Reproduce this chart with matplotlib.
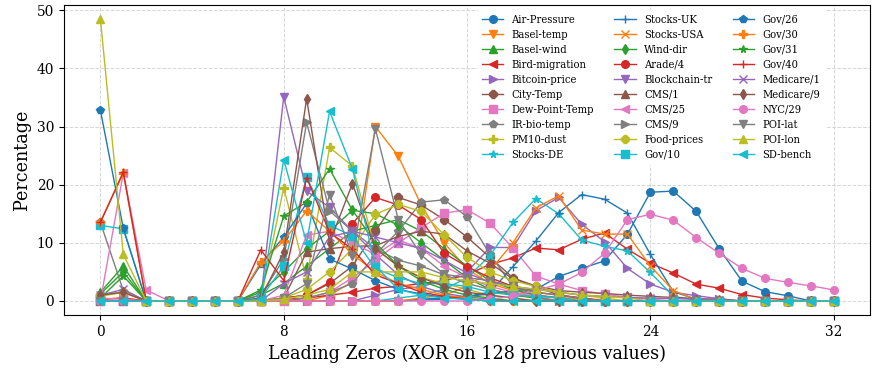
import matplotlib
matplotlib.use("Agg")
import matplotlib.pyplot as plt

plt.rcParams['font.family'] = ['DejaVu Serif']
plt.rcParams['font.stretch'] = 'condensed'

leading_zeros = list(range(33))

names = ["Air-Pressure", "Basel-temp", "Basel-wind", "Bird-migration", "Bitcoin-price",
         "City-Temp", "Dew-Point-Temp", "IR-bio-temp", "PM10-dust", "Stocks-DE",
         "Stocks-UK", "Stocks-USA", "Wind-dir", "Arade/4", "Blockchain-tr",
         "CMS/1", "CMS/25", "CMS/9", "Food-prices", "Gov/10",
         "Gov/26", "Gov/30", "Gov/31", "Gov/40", "Medicare/1",
         "Medicare/9", "NYC/29", "POI-lat", "POI-lon", "SD-bench"]

#                 0    1    2  3  4  5  6    7     8     9    10    11    12    13    14    15    16    17    18    19    20    21    22    23    24    25    26    27   28   29   30   31   32
air_pressure   = [0,   0,   0, 0, 0, 0, 0,   0,    0,    0,   0,    0,    0,    0,  0.3,  0.5,  0.8,  1.2,  1.8,  2.0,  4.2,  5.6,  6.9, 11.5, 18.7, 18.9, 15.4,  9.0, 3.4, 1.6, 0.9,   0,   0]
basel_temp     = [0.3, 0.5, 0, 0, 0, 0, 0,   0,    0,    0, 1.0,  3.3, 30.0, 24.9, 16.5, 10.0,  5.5,  3.0,  1.8,  1.0,  0.6,  0.4,  0.2,    0,    0,    0,    0,    0,   0,   0,   0,   0,   0]
basel_wind     = [1.5, 6.0, 0, 0, 0, 0, 0, 1.0,  3.0,  6.0, 9.0, 12.0, 13.0, 14.0, 12.0,  9.0,  6.0,  3.5,  2.0,  1.0,  0.5,    0,    0,    0,    0,    0,    0,    0,   0,   0,   0,   0,   0]
bird_migration = [0.3, 0.5, 0, 0, 0, 0, 0,   0,  0.3,  0.5, 1.0,  1.5,  2.2,  2.5,  3.0,  3.5,  4.5,  6.3,  7.4,  9.1,  8.8, 10.6, 11.7,  8.9,  6.5,  4.8,  2.9,  2.2, 1.1, 0.5, 0.2,   0,   0]
bitcoin_price  = [0,   0,   0, 0, 0, 0, 0,   0,    0,    0,   0,    0,  1.0,  2.0,  2.5,  3.5,  5.0,  9.2,  9.2, 15.5, 17.8, 13.2, 10.2,  5.6,  2.9,  1.5,  0.9,  0.4,   0,   0,   0,   0,   0]
city_temp      = [1.0, 1.5, 0, 0, 0, 0, 0,   0,  0.5,  1.0, 3.0,  6.0, 12.0, 17.8, 16.5, 14.0, 11.0,  7.5,  4.0,  2.5,  1.0,  0.5,    0,    0,    0,    0,    0,    0,   0,   0,   0,   0,   0]
dew_point_temp = [0.5, 0.3, 0, 0, 0, 0, 0,   0,    0,  0.5, 1.5,  4.0,  7.0, 10.0, 12.6, 15.1, 15.7, 13.4,  9.1,  4.3,  2.9,  1.8,  1.2,  0.6,  0.3,    0,    0,    0,   0,   0,   0,   0,   0]
ir_bio_temp    = [13.5, 1.8, 0, 0, 0, 0, 0,  0,    0,  0.5, 1.5,  3.0,  8.0, 12.0, 17.0, 17.4, 14.5,  8.0,  2.5,  1.0,  0.5,    0,    0,    0,    0,    0,    0,    0,   0,   0,   0,   0,   0]
pm10_dust      = [1.0, 1.5, 0, 0, 0, 0, 0, 0.3, 19.5,  3.8, 26.4, 23.2, 9.0,  6.0,  4.0,  3.0,  2.0,  1.0,  0.5,    0,    0,    0,    0,    0,    0,    0,    0,    0,   0,   0,   0,   0,   0]
stocks_de      = [0,   0,   0, 0, 0, 0, 0,   0,    0,    0,   0,    0,    0,  0.5,  1.0,  2.0,  4.0,  7.8, 13.5, 17.6, 15.0, 10.5,  9.4,  8.6,  4.9,  0.8,  0.2,    0,   0,   0,   0,   0,   0]
stocks_uk      = [0,   0,   0, 0, 0, 0, 0,   0,    0,    0,   0,    0,    0,    0,  0.2,  0.3,  0.8,  1.5,  5.9, 10.3, 15.2, 18.3, 17.5, 15.1,  8.0,  1.6,  0.3,    0,   0,   0,   0,   0,   0]
stocks_usa     = [0,   0,   0, 0, 0, 0, 0,   0,    0,    0,   0,    0,    0,    0,  0.5,  1.0,  2.5,  5.2, 10.0, 16.0, 18.1, 12.2, 11.5, 11.5,  6.0,  1.8,  0.2,    0,   0,   0,   0,   0,   0]
wind_dir       = [1.2, 5.0, 0, 0, 0, 0, 0, 1.5,  5.0,  9.0, 12.0, 15.6, 15.0, 13.0, 10.0,  7.0,  4.0,  2.0,  1.0,  0.5,    0,    0,    0,    0,    0,    0,    0,    0,   0,   0,   0,   0,   0]
arade_4        = [0,   0,   0, 0, 0, 0, 0,   0,  0.5,  1.0, 3.2, 13.3, 17.8, 16.5, 14.0,  8.2,  5.9,  4.0,  2.5,  1.5,  1.0,  0.5,    0,    0,    0,    0,    0,    0,   0,   0,   0,   0,   0]
blockchain_tr  = [0,   0,   0, 0, 0, 0, 0, 0.3, 35.1, 18.9, 16.1, 12.0, 8.0,  4.5,  2.5,  1.3,  0.7,  0.3,    0,    0,    0,    0,    0,    0,    0,    0,    0,    0,   0,   0,   0,   0,   0]
cms_1          = [0,   0,   0, 0, 0, 0, 0,   0,  0.5,  8.4, 9.0,  9.4,  9.5, 11.1, 12.0, 11.5,  8.6,  6.5,  3.8,  2.6,  1.8,  1.5,  1.3,  1.0,  0.8,  0.6,  0.4,  0.3,   0,   0,   0,   0,   0]
cms_25         = [0,  22.0, 1.9, 0, 0, 0, 0, 0,  1.0, 11.3, 12.0, 10.0, 8.0, 10.5,  9.0,  6.0,  4.0,  2.5,  1.5,  0.8,    0,    0,    0,    0,    0,    0,    0,    0,   0,   0,   0,   0,   0]
cms_9          = [0,   0,   0, 0, 0, 0, 0, 1.0,  7.2, 30.7, 15.5, 12.0, 9.0,  7.0,  6.0,  4.5,  3.0,  2.0,  1.2,  0.6,    0,    0,    0,    0,    0,    0,    0,    0,   0,   0,   0,   0,   0]
food_prices    = [0.8, 1.5, 0, 0, 0, 0, 0,   0,  0.5,  2.0, 5.0,  9.0, 14.9, 16.6, 15.4, 11.4,  7.5,  5.0,  3.5,  2.5,  1.5,  1.0,  0.5,    0,    0,    0,    0,    0,   0,   0,   0,   0,   0]
gov_10         = [13.0, 12.4, 0, 0, 0, 0, 0, 0.5, 6.0, 21.3, 13.0, 11.2, 5.6, 4.0,  3.0,  3.0,  2.5,  1.5,  1.0,  0.8,  0.5,    0,    0,    0,    0,    0,    0,    0,   0,   0,   0,   0,   0]
gov_26         = [32.8, 12.5, 0, 0, 0, 0, 0, 6.3, 11.0, 16.8, 7.2, 5.5, 3.5, 2.0,  1.2,  0.6,  0.3,    0,    0,    0,    0,    0,    0,    0,    0,    0,    0,    0,   0,   0,   0,   0,   0]
gov_30         = [13.6, 22.0, 0, 0, 0, 0, 0, 6.7, 10.3, 15.5, 12.0, 8.0, 5.0, 3.0,  2.0,  1.0,  0.5,    0,    0,    0,    0,    0,    0,    0,    0,    0,    0,    0,   0,   0,   0,   0,   0]
gov_31         = [0.5, 4.3, 0, 0, 0, 0, 0, 1.9, 14.6, 17.0, 22.7, 15.6, 10.0, 6.0, 3.5,  2.0,  1.0,  0.5,    0,    0,    0,    0,    0,    0,    0,    0,    0,    0,   0,   0,   0,   0,   0]
gov_40         = [13.5, 22.2, 0, 0, 0, 0, 0, 8.8, 3.5, 21.2, 11.8, 8.9, 4.5, 3.0,  1.5,  0.8,  0.3,    0,    0,    0,    0,    0,    0,    0,    0,    0,    0,    0,   0,   0,   0,   0,   0]
medicare_1     = [1.0, 2.0, 0, 0, 0, 0, 0,   0,  3.0,  5.0, 11.0, 12.0, 11.0, 10.0, 9.0,  7.0,  4.8,  3.2,  2.5,  2.0,  1.5,  1.0,  0.8,  0.6,  0.5,  0.4,  0.3,  0.2,   0,   0,   0,   0,   0]
medicare_9     = [1.0, 1.5, 0, 0, 0, 0, 0, 0.5,  8.4, 34.8, 10.0, 20.2, 9.0,  6.0,  4.0,  2.5,  1.5,  1.0,  0.5,    0,    0,    0,    0,    0,    0,    0,    0,    0,   0,   0,   0,   0,   0]
nyc_29         = [0,   0,   0, 0, 0, 0, 0,   0,    0,    0,   0,    0,    0,    0,    0,    0,    0,  0.3,  0.8,  1.8,  2.9,  4.9,  8.2, 14.0, 14.9, 13.9, 10.9,  8.2, 5.6, 3.9, 3.2, 2.6, 1.9]
poi_lat        = [0,   0,   0, 0, 0, 0, 0,   0,  0.5,  3.0, 18.3,  7.8, 29.6, 14.0,  7.9,  4.6,  4.0,  3.5,  2.5,  1.5,  1.0,  0.5,    0,    0,    0,    0,    0,    0,   0,   0,   0,   0,   0]
poi_lon        = [48.5, 8.0, 0, 0, 0, 0, 0,  0,  0.3,  1.0, 2.0,  5.0,  5.0,  5.0,  5.0,  4.0,  3.5,  3.0,  2.5,  2.0,  1.5,  1.0,  0.8,  0.5,    0,    0,    0,    0,   0,   0,   0,   0,   0]
sd_bench       = [0,   0,   0, 0, 0, 0, 0, 0.3, 24.3, 10.0, 32.6, 22.7, 6.0,  2.0,  1.0,  0.5,  0.3,    0,    0,    0,    0,    0,    0,    0,    0,    0,    0,    0,   0,   0,   0,   0,   0]

series = [air_pressure, basel_temp, basel_wind, bird_migration, bitcoin_price,
          city_temp, dew_point_temp, ir_bio_temp, pm10_dust, stocks_de,
          stocks_uk, stocks_usa, wind_dir, arade_4, blockchain_tr,
          cms_1, cms_25, cms_9, food_prices, gov_10,
          gov_26, gov_30, gov_31, gov_40, medicare_1,
          medicare_9, nyc_29, poi_lat, poi_lon, sd_bench]

markers = ['o', 'v', '^', '<', '>', '8', 's', 'p', 'P', '*', '+', 'x', 'd']
colors = plt.rcParams['axes.prop_cycle'].by_key()['color']

fig = plt.figure(figsize=(8.73, 3.72), dpi=100)
ax = fig.add_axes([0.073, 0.153, 0.924, 0.834])

for i, (name, vals) in enumerate(zip(names, series)):
    ax.plot(leading_zeros, vals, marker=markers[i % len(markers)],
            color=colors[i % 10], label=name, linewidth=1.0, markersize=5.5)

ax.set_xticks([0, 8, 16, 24, 32])
ax.set_yticks([0, 10, 20, 30, 40, 50])
ax.tick_params(labelsize=11)
ax.grid(True, linestyle='--', color='#cccccc', linewidth=0.7, alpha=0.8)
ax.set_axisbelow(True)
ax.set_xlabel("Leading Zeros (XOR on 128 previous values)", fontsize=14)
ax.set_ylabel("Percentage", fontsize=14)
leg = ax.legend(ncol=3, loc='upper left', fontsize=8, frameon=True,
                edgecolor='white', framealpha=1.0, fancybox=False,
                handlelength=1.9, handletextpad=0.75, columnspacing=1.85,
                labelspacing=0.45, borderaxespad=0.0,
                bbox_to_anchor=(0.513, 0.983))
fig.savefig("out.png", dpi=100)
